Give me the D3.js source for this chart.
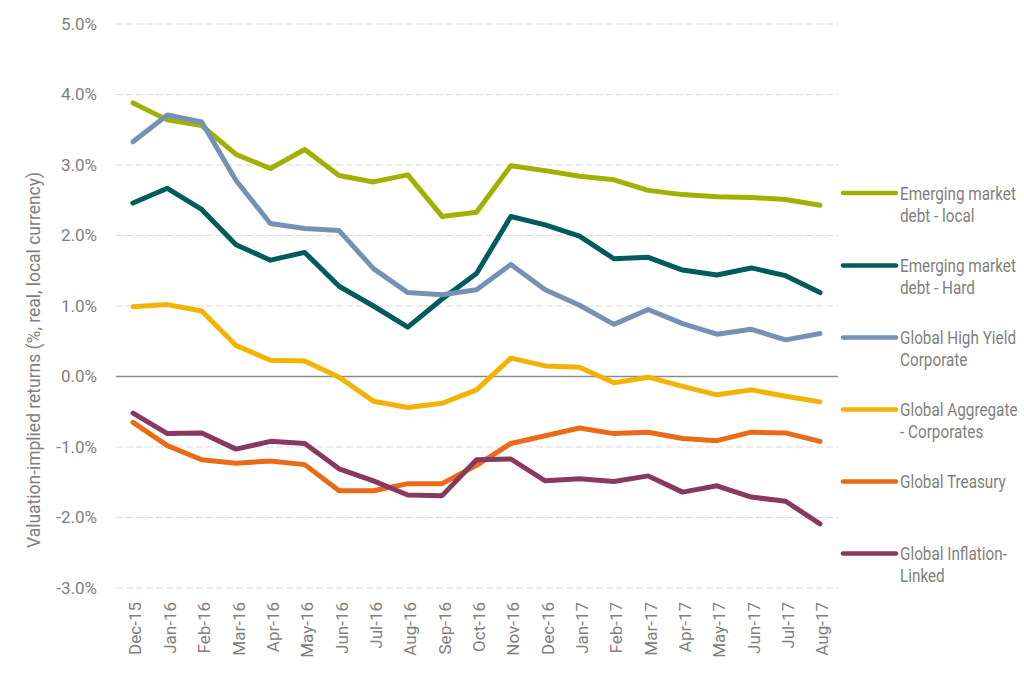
<!DOCTYPE html>
<html>
<head>
<meta charset="utf-8">
<script src="https://cdn.jsdelivr.net/npm/d3@7"></script>
<style>
  html, body { margin: 0; padding: 0; background: #fff; }
  svg text { font-family: "Roboto", "Liberation Sans", sans-serif; fill: #7f7f7f; }
</style>
</head>
<body>
<svg id="chart" width="1024" height="675"></svg>
<script>
const months = ["Dec-15","Jan-16","Feb-16","Mar-16","Apr-16","May-16","Jun-16","Jul-16","Aug-16","Sep-16","Oct-16","Nov-16","Dec-16","Jan-17","Feb-17","Mar-17","Apr-17","May-17","Jun-17","Jul-17","Aug-17"];
const seriesNames = ["Emerging market debt - local","Emerging market debt - Hard","Global High Yield Corporate","Global Aggregate - Corporates","Global Treasury","Global Inflation-Linked"];
const legendLines = [["Emerging market","debt - local"],["Emerging market","debt - Hard"],["Global High Yield","Corporate"],["Global Aggregate","- Corporates"],["Global Treasury"],["Global Inflation-","Linked"]];
const colors = ["#a1b100","#005b5c","#7591b5","#f3b300","#e96b17","#89385f"];
const emdLocal = [3.88,3.64,3.56,3.15,2.95,3.22,2.85,2.76,2.86,2.27,2.33,2.99,2.92,2.84,2.79,2.64,2.58,2.55,2.54,2.51,2.43];
const emdHard = [2.46,2.67,2.37,1.87,1.65,1.76,1.28,1.00,0.70,1.10,1.46,2.27,2.15,1.99,1.67,1.69,1.51,1.44,1.54,1.43,1.19];
const highYield = [3.33,3.71,3.61,2.78,2.17,2.10,2.07,1.53,1.19,1.16,1.23,1.59,1.23,1.01,0.74,0.95,0.75,0.60,0.67,0.52,0.61];
const aggCorp = [0.99,1.02,0.93,0.44,0.23,0.22,-0.01,-0.35,-0.44,-0.38,-0.19,0.26,0.15,0.13,-0.09,-0.01,-0.14,-0.26,-0.19,-0.28,-0.36];
const treasury = [-0.65,-0.98,-1.18,-1.23,-1.20,-1.25,-1.62,-1.62,-1.52,-1.52,-1.26,-0.95,-0.84,-0.73,-0.81,-0.79,-0.88,-0.91,-0.79,-0.80,-0.92];
const inflation = [-0.52,-0.81,-0.80,-1.03,-0.92,-0.95,-1.31,-1.48,-1.68,-1.69,-1.18,-1.17,-1.48,-1.45,-1.49,-1.41,-1.64,-1.55,-1.71,-1.77,-2.09];
const yTicks = [-3,-2,-1,0,1,2,3,4,5];
const yTitle = "Valuation-implied returns (%, real, local currency)";

const allSeries = [emdLocal, emdHard, highYield, aggCorp, treasury, inflation];

const svg = d3.select("#chart");
const x = d3.scalePoint().domain(months).range([133, 820]);
const y = d3.scaleLinear().domain([-3, 5]).range([588, 24]);
const gridX0 = 116, gridX1 = 838;
const FONT = 'Roboto, "Liberation Sans", sans-serif';

// gridlines
svg.append("g").selectAll("line").data(yTicks.filter(d => d !== 0)).join("line")
  .attr("x1", gridX0).attr("x2", gridX1)
  .attr("y1", d => y(d)).attr("y2", d => y(d))
  .attr("stroke", "#dcdcdc").attr("stroke-width", 1.2)
  .attr("stroke-dasharray", "7,3");

// zero line
svg.append("line").attr("x1", gridX0).attr("x2", gridX1)
  .attr("y1", y(0)).attr("y2", y(0))
  .attr("stroke", "#8a8a8a").attr("stroke-width", 1.5);

// y axis labels
const fmtPct = d => (d < 0 ? "-" : "") + Math.abs(d).toFixed(1) + "%";
const yAxis = d3.axisLeft(y).tickValues(yTicks).tickSize(0).tickPadding(0).tickFormat(fmtPct);
const gy = svg.append("g").attr("transform", "translate(97,0)").call(yAxis);
gy.select(".domain").remove();
gy.selectAll("text").attr("font-size", 17).attr("fill", "#7f7f7f").style("font-family", FONT);

// x axis labels
const xAxis = d3.axisBottom(x).tickSize(0).tickPadding(0);
const gx = svg.append("g").attr("transform", "translate(0,602)").call(xAxis);
gx.select(".domain").remove();
gx.selectAll("text")
  .attr("font-size", 17).attr("fill", "#7f7f7f").style("font-family", FONT)
  .attr("text-anchor", "end")
  .attr("transform", "rotate(-90)")
  .attr("x", 0).attr("y", 2).attr("dy", "0.35em");

// y title
svg.append("text")
  .attr("transform", "translate(33,360) rotate(-90) scale(0.92,1)")
  .attr("text-anchor", "middle").attr("dy", "0.35em")
  .attr("font-size", 19).attr("fill", "#7f7f7f").style("font-family", FONT)
  .text(yTitle);

// lines
const line = d3.line().x((d, i) => x(months[i])).y(d => y(d));
svg.append("g").selectAll("path").data(allSeries).join("path")
  .attr("d", d => line(d))
  .attr("fill", "none")
  .attr("stroke", (d, i) => colors[i])
  .attr("stroke-width", 5)
  .attr("stroke-linejoin", "round")
  .attr("stroke-linecap", "round");

// legend
const legY = [193, 265.5, 337.5, 409.5, 481.5, 553.5];
const lg = svg.append("g").selectAll("g").data(seriesNames).join("g")
  .attr("transform", (d, i) => `translate(0,${legY[i]})`);
lg.append("line").attr("x1", 843).attr("x2", 896).attr("y1", 0).attr("y2", 0)
  .attr("stroke", (d, i) => colors[i]).attr("stroke-width", 4.5).attr("stroke-linecap", "round");
lg.append("text").attr("transform", "translate(900,6.5) scale(0.85,1)")
  .attr("font-size", 18).attr("fill", "#7a7a7a").style("font-family", FONT)
  .selectAll("tspan").data((d, i) => legendLines[i]).join("tspan")
  .attr("x", 0).attr("dy", (d, j) => j === 0 ? 0 : 22.5)
  .text(d => d);
</script>
</body>
</html>
